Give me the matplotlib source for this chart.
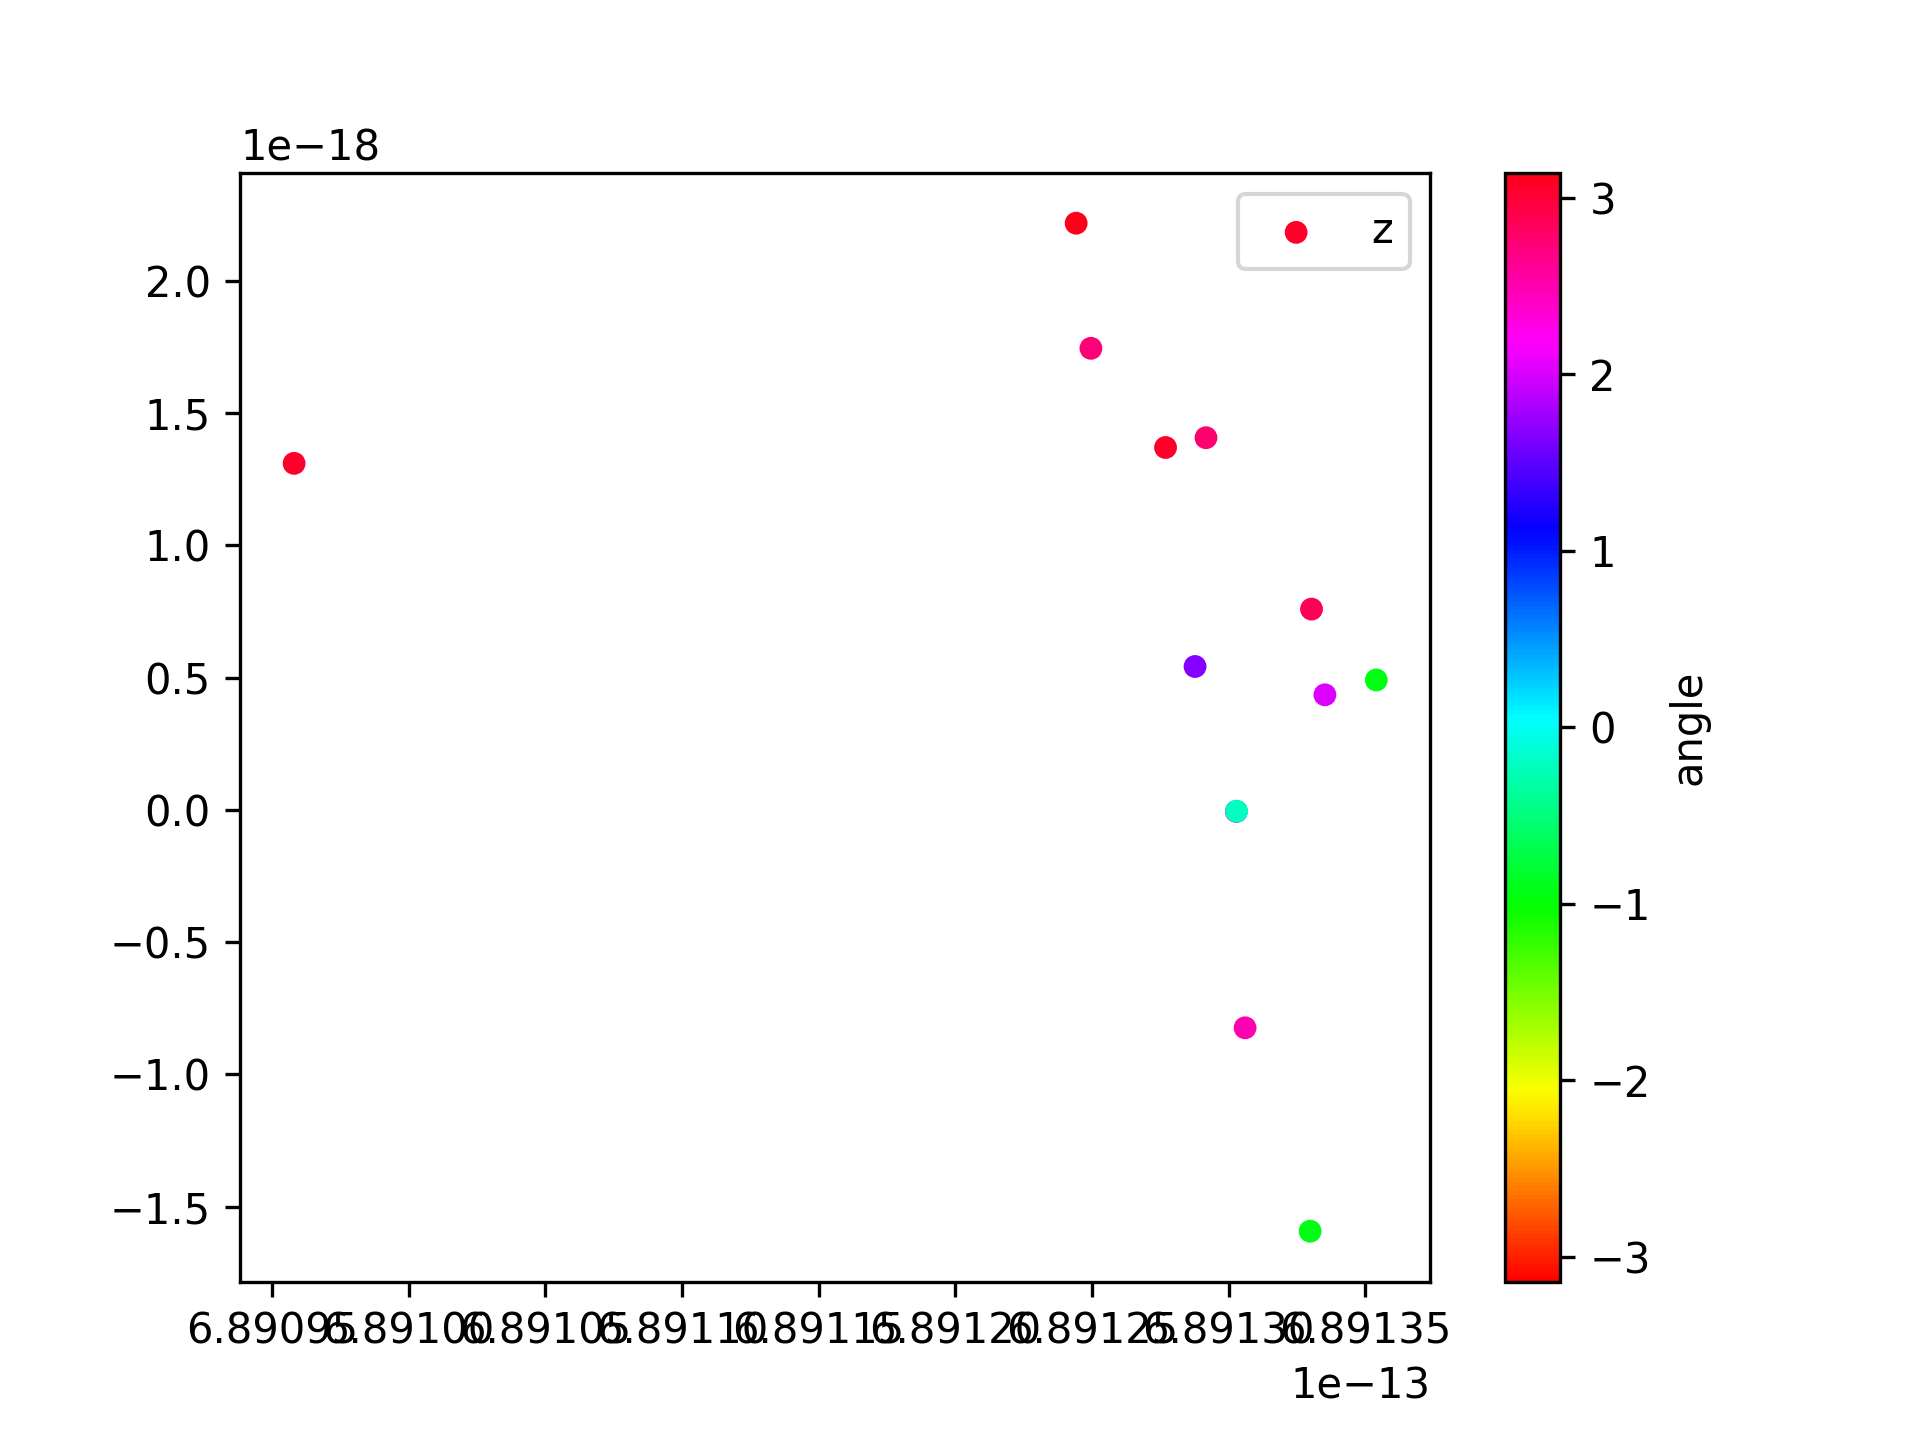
import numpy as np
import matplotlib
matplotlib.use("Agg")
import matplotlib.pyplot as plt

# complex values z = x + i*y
x_re = [6.8909581e-13, 6.8912442e-13, 6.8912496e-13, 6.8912769e-13, 6.8912917e-13,
        6.8913303e-13, 6.8912877e-13, 6.8913352e-13, 6.8913540e-13, 6.8913028e-13,
        6.8913029e-13, 6.8913060e-13, 6.8913298e-13]
y_im = [1.310e-18, 2.218e-18, 1.745e-18, 1.370e-18, 1.407e-18,
        0.759e-18, 0.542e-18, 0.435e-18, 0.491e-18, -0.006e-18,
        -0.005e-18, -0.824e-18, -1.593e-18]
angle = [3.05, 3.13, 2.74, 3.05, 2.75,
         2.86, 1.65, 2.02, -0.94, 1.9,
         -0.21, 2.49, -0.93]

fig, ax = plt.subplots(figsize=(6.4, 4.8), dpi=300)
sc = ax.scatter(x_re, y_im, c=angle, cmap='hsv', vmin=-np.pi, vmax=np.pi,
                s=20, label='z')
cb = fig.colorbar(sc, ax=ax)
cb.set_label('angle')
ax.legend()
fig.savefig('out.png', dpi=300)
